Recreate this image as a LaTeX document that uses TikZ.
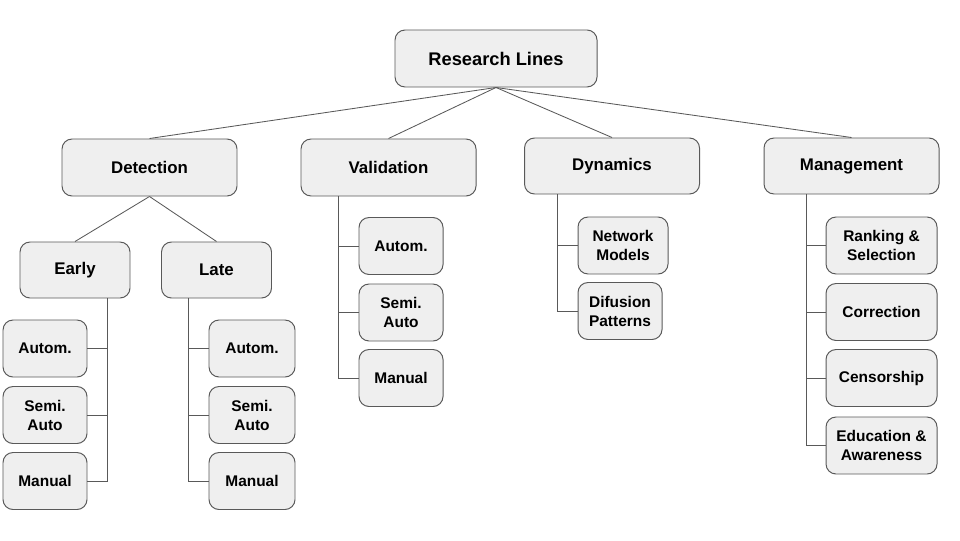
\documentclass[tikz,border=0pt]{standalone}
\usepackage{fontspec}
\setmainfont{Liberation Sans}
\usepackage{tikz}
\definecolor{boxfill}{HTML}{EFEFEF}
\definecolor{boxline}{HTML}{595959}

\begin{document}
\begin{tikzpicture}[
    box/.style={draw=boxline, fill=boxfill, rounded corners=0.25cm, line width=0.7pt,
        align=center, inner sep=0pt, minimum height=1.425cm,
        font=\fontsize{12}{14}\selectfont\bfseries},
    topbox/.style={box, minimum width=4.375cm},
    leaf/.style={box, minimum width=2.1cm, font=\fontsize{11}{13.5}\selectfont\bfseries},
    link/.style={draw=boxline, line width=0.6pt}
]
    \useasboundingbox (0,0) rectangle (24,13.5);

    % Root and the four research lines
    \node[box, minimum width=5.05cm, font=\fontsize{13}{15}\selectfont\bfseries] (root) at (12.4,12.0375) {Research Lines};
    \node[topbox] (det) at (3.7375,9.3125) {Detection};
    \node[topbox] (val) at (9.7125,9.3125) {Validation};
    \node[topbox, minimum height=1.4cm] (dyn) at (15.3,9.35) {Dynamics};
    \node[topbox, minimum height=1.4cm] (man) at (21.2875,9.35) {Management};

    % Detection: early and late
    \node[box, minimum width=2.75cm, minimum height=1.4cm] (early) at (1.875,6.75) {Early};
    \node[box, minimum width=2.75cm, minimum height=1.4cm] (late) at (5.4125,6.75) {Late};

    \node[leaf] (eaut) at (1.125,4.7875) {Autom.};
    \node[leaf] (esem) at (1.125,3.125) {Semi.\\Auto};
    \node[leaf] (eman) at (1.125,1.475) {Manual};

    \node[leaf, minimum width=2.15cm] (laut) at (6.3,4.7875) {Autom.};
    \node[leaf, minimum width=2.15cm] (lsem) at (6.3,3.125) {Semi.\\Auto};
    \node[leaf, minimum width=2.15cm] (lman) at (6.3,1.475) {Manual};

    % Validation
    \node[leaf] (vaut) at (10.025,7.35) {Autom.};
    \node[leaf] (vsem) at (10.025,5.6875) {Semi.\\Auto};
    \node[leaf] (vman) at (10.025,4.05) {Manual};

    % Dynamics
    \node[leaf, minimum width=2.25cm] (dnet) at (15.575,7.3625) {Network\\Models};
    \node[leaf] (ddif) at (15.5,5.725) {Difusion\\Patterns};

    % Management
    \node[leaf, minimum width=2.775cm] (mrank) at (22.0375,7.3625) {Ranking \&\\Selection};
    \node[leaf, minimum width=2.775cm] (mcorr) at (22.0375,5.7) {Correction};
    \node[leaf, minimum width=2.775cm] (mcens) at (22.0375,4.05) {Censorship};
    \node[leaf, minimum width=2.775cm] (medu) at (22.0375,2.3625) {Education \&\\Awareness};

    % Root links
    \foreach \n in {det,val,dyn,man}
        \draw[link] (root.south) -- (\n.north);
    \draw[link] (det.south) -- (early.north);
    \draw[link] (det.south) -- (late.north);

    % Spines
    \coordinate (espine) at ([xshift=0.8cm]early.south);
    \coordinate (lspine) at ([xshift=-0.7125cm]late.south);
    \coordinate (vspine) at ([xshift=-1.2625cm]val.south);
    \coordinate (dspine) at ([xshift=-1.375cm]dyn.south);
    \coordinate (mspine) at ([xshift=-1.1375cm]man.south);

    \draw[link] (espine) |- (eman.east);
    \foreach \n in {eaut,esem}
        \draw[link] (\n.east) -- (\n.east -| espine);
    \draw[link] (lspine) |- (lman.west);
    \foreach \n in {laut,lsem}
        \draw[link] (lspine |- \n.west) -- (\n.west);
    \draw[link] (vspine) |- (vman.west);
    \foreach \n in {vaut,vsem}
        \draw[link] (vspine |- \n.west) -- (\n.west);
    \draw[link] (dspine) |- (ddif.west);
    \draw[link] (dspine |- dnet.west) -- (dnet.west);
    \draw[link] (mspine) |- (medu.west);
    \foreach \n in {mrank,mcorr,mcens}
        \draw[link] (mspine |- \n.west) -- (\n.west);
\end{tikzpicture}
\end{document}
